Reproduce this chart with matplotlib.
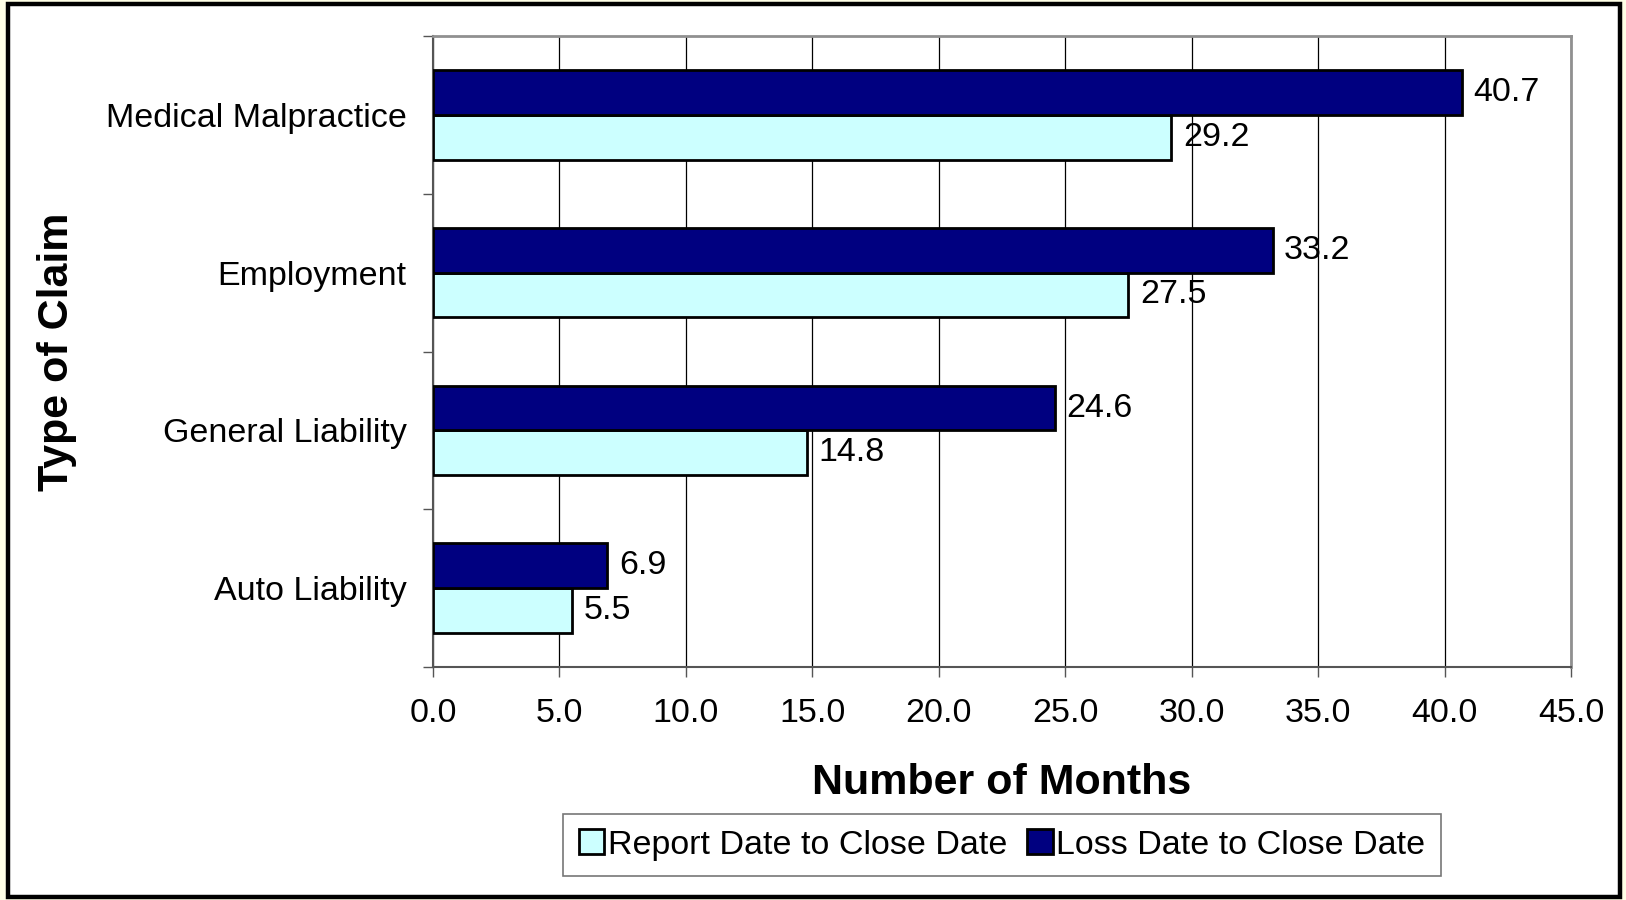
import matplotlib.pyplot as plt
import numpy as np
from matplotlib.patches import Rectangle
from matplotlib.ticker import FormatStrFormatter

plt.rcParams["font.family"] = ["Liberation Sans", "DejaVu Sans"]

claims = ["Auto Liability", "General Liability", "Employment", "Medical Malpractice"]
report_to_close = [5.5, 14.8, 27.5, 29.2]
loss_to_close = [6.9, 24.6, 33.2, 40.7]

LIGHT = "#CCFFFF"
DARK = "#000080"
FS = 24.5

fig = plt.figure(figsize=(16.26, 9.0), dpi=100, facecolor="#FFFFE6")
# white chart area with heavy black frame, behind everything
fig.patches.append(Rectangle((8 / 1626, 3 / 900), 1612 / 1626, 893 / 900,
                             transform=fig.transFigure, facecolor="white",
                             edgecolor="black", linewidth=3.2, zorder=-10))

ax = fig.add_axes([433 / 1626, 1 - 667 / 900, (1571 - 433) / 1626, (667 - 36) / 900])
ax.set_facecolor("white")

y = np.arange(len(claims))
h = 0.283
ax.barh(y - h / 2, report_to_close, height=h, color=LIGHT, edgecolor="black",
        linewidth=2, label="Report Date to Close Date", zorder=3)
ax.barh(y + h / 2, loss_to_close, height=h, color=DARK, edgecolor="black",
        linewidth=2, label="Loss Date to Close Date", zorder=3)

for yi, v in zip(y, report_to_close):
    ax.text(v + 0.45, yi - h / 2, f"{v:.1f}", va="center", ha="left", fontsize=FS)
for yi, v in zip(y, loss_to_close):
    ax.text(v + 0.45, yi + h / 2, f"{v:.1f}", va="center", ha="left", fontsize=FS)

ax.set_xlim(0, 45)
ax.set_ylim(-0.5, len(claims) - 0.5)
ax.set_xticks(np.arange(0, 45.1, 5))
ax.xaxis.set_major_formatter(FormatStrFormatter("%.1f"))
ax.grid(axis="x", color="black", linewidth=0.9, zorder=0)

ax.set_yticks(np.arange(-0.5, len(claims), 1.0))
ax.set_yticklabels([])
ax.set_yticks(y, minor=True)
ax.set_yticklabels(claims, minor=True)
ax.tick_params(axis="y", which="minor", length=0, pad=19, labelsize=FS)
ax.tick_params(axis="y", which="major", length=7.5, width=1, color="#555555")
ax.tick_params(axis="x", which="major", length=7.5, width=1, color="#555555",
               labelsize=FS, pad=15)

for side in ("top", "right"):
    ax.spines[side].set_color("#909090")
    ax.spines[side].set_linewidth(2)
for side in ("left", "bottom"):
    ax.spines[side].set_color("#555555")
    ax.spines[side].set_linewidth(1.5)

ax.set_xlabel("Number of Months", fontsize=31, fontweight="bold", labelpad=24)
ax.set_ylabel("Type of Claim", fontsize=31, fontweight="bold", labelpad=21)

leg = fig.legend(loc="center", bbox_to_anchor=(1002 / 1626, 1 - 845 / 900),
                 ncol=2, frameon=True, fancybox=False,
                 prop={"size": FS},
                 handlelength=0.75, handleheight=0.75, handletextpad=0.1,
                 columnspacing=0.6, borderpad=0.45, borderaxespad=0)
leg.get_frame().set_edgecolor("#555555")
leg.get_frame().set_linewidth(1.2)

fig.savefig("out.png", dpi=100, facecolor=fig.get_facecolor())
